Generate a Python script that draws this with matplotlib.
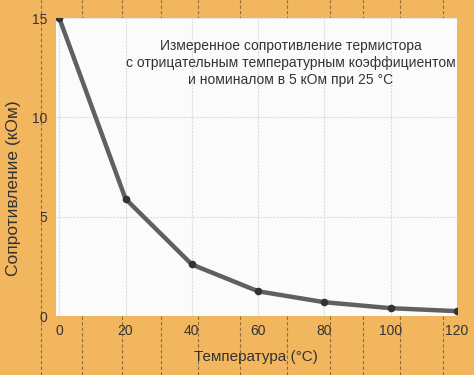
import matplotlib.pyplot as plt
from matplotlib.lines import Line2D

plt.rcParams['font.family'] = ['Liberation Sans', 'DejaVu Sans']

# measured thermistor resistance (kOhm) vs temperature (C)
temperature = [0, 20, 40, 60, 80, 100, 120]
resistance = [15.0, 5.9, 2.6, 1.25, 0.7, 0.4, 0.25]
x_ticks = [0, 20, 40, 60, 80, 100, 120]
y_ticks = [0, 5, 10, 15]

fig = plt.figure(figsize=(4.74, 3.75), dpi=100)
fig.patch.set_facecolor('#f1b65e')

# dashed vertical stripes of the paper background
for px in [41, 82, 122, 161, 198, 240, 287, 330, 363, 400, 443]:
    fig.add_artist(Line2D([px / 474, px / 474], [0, 1], transform=fig.transFigure,
                          color='#6b4a2a', lw=0.8, ls=(0, (3, 2)), alpha=0.7, zorder=0))

ax = fig.add_axes([0.118, 0.157, 0.846, 0.795])
ax.set_facecolor('#fbfbfb')
ax.set_zorder(2)

ax.plot(temperature, resistance, color='#606060', lw=3.2, zorder=3)
ax.plot(temperature, resistance, 'o', color='#333333', ms=4.5, zorder=4)

ax.set_xlim(-1, 120)
ax.set_ylim(0, 15)
ax.set_xticks(x_ticks)
ax.set_yticks(y_ticks)
ax.grid(True, color='#dcdcdc', lw=0.8, ls=(0, (2, 1)))
ax.set_axisbelow(True)
for s in ax.spines.values():
    s.set_visible(False)
ax.tick_params(length=0, labelsize=10, colors='#333333', pad=6)

ax.set_xlabel('Температура (°C)', fontsize=11, color='#333333', labelpad=8)
ax.set_ylabel('Сопротивление (кОм)', fontsize=12.5, color='#333333')
ax.yaxis.set_label_coords(-0.086, 0.43)

ax.text(0.585, 0.93, 'Измеренное сопротивление термистора\n'
        'с отрицательным температурным коэффициентом\n'
        'и номиналом в 5 кОм при 25 °C',
        transform=ax.transAxes, ha='center', va='top', fontsize=10,
        color='#333333', linespacing=1.3)

fig.savefig('out.png', dpi=100, facecolor=fig.get_facecolor())
